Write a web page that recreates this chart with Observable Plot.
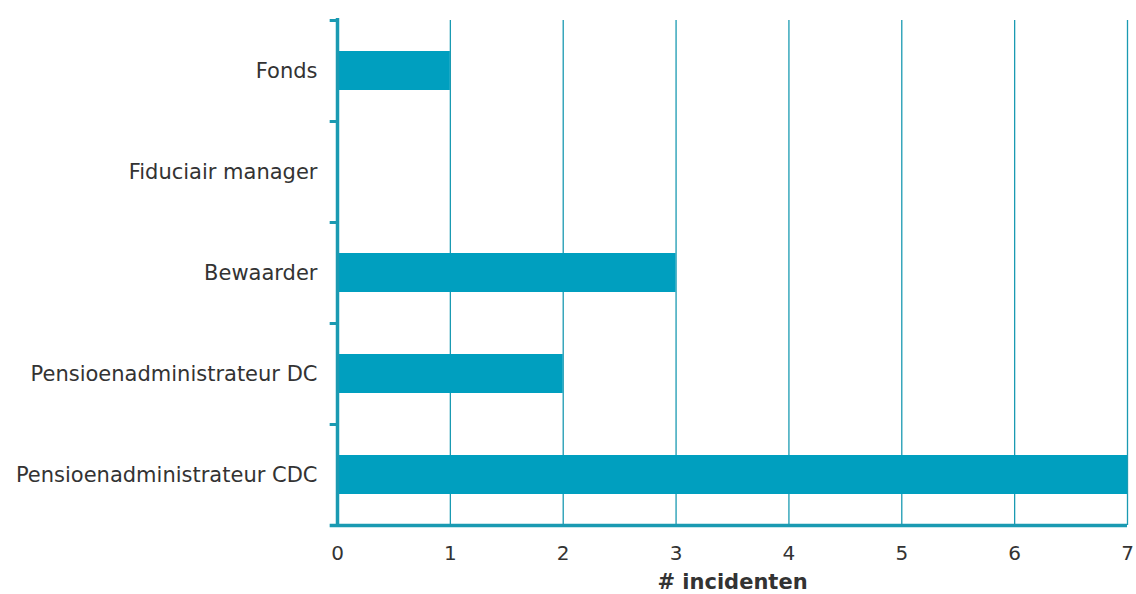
<!DOCTYPE html>
<html>
<head>
<meta charset="utf-8">
<script src="https://cdn.jsdelivr.net/npm/d3@7"></script>
<script src="https://cdn.jsdelivr.net/npm/@observablehq/plot@0.6"></script>
<style>
  html, body { margin: 0; padding: 0; background: #fff; }
  svg { display: block; }
</style>
</head>
<body>
<div id="chart"></div>
<script>
const categories = ["Fonds", "Fiduciair manager", "Bewaarder", "Pensioenadministrateur DC", "Pensioenadministrateur CDC"];
const values = [1, 0, 3, 2, 7];
const xTicks = [0, 1, 2, 3, 4, 5, 6, 7];
const xLabel = "# incidenten";

const data = categories.map((c, i) => ({category: c, value: values[i]}));

const teal = "#009fbf";
const lineColor = "#1a9ab2";
const W = 1136, H = 594, mT = 20, mB = 69, mL = 337, mR = 9;
const step = (H - mT - mB) / categories.length;

const chart = Plot.plot({
  width: W,
  height: H,
  marginTop: mT,
  marginBottom: mB,
  marginLeft: mL,
  marginRight: mR,
  style: {fontFamily: "'DejaVu Sans', Verdana, sans-serif", fontSize: "21px", color: "#333", background: "#fff"},
  x: {domain: [0, 7]},
  y: {domain: categories, padding: 0},
  marks: [
    Plot.ruleX(xTicks.filter(d => d > 0), {stroke: lineColor, strokeWidth: 1.3}),
    Plot.barX(data, {x: "value", y: "category", fill: teal, insetTop: 31, insetBottom: 31}),
    // band boundary ticks on the left axis
    Plot.ruleY(categories, {y: d => d, x1: -0.065, x2: 0, dy: -step / 2, stroke: lineColor, strokeWidth: 3}),
    Plot.ruleX([0], {stroke: lineColor, strokeWidth: 3.5, insetTop: -2}),
    Plot.ruleY([categories[categories.length - 1]], {x1: -0.065, x2: 7, dy: step / 2, stroke: lineColor, strokeWidth: 3.5}),
    Plot.axisY({tickSize: 0, tickPadding: 20, fontSize: 21, fill: "#333", label: null}),
    Plot.axisX({ticks: xTicks, tickSize: 0, tickPadding: 20, fontSize: 20, fill: "#333", label: null, tickFormat: d => String(d)}),
    Plot.text([xLabel], {frameAnchor: "bottom", dy: 57, lineAnchor: "middle", fontWeight: "bold", fontSize: 21, fill: "#333", text: d => d})
  ]
});
document.getElementById("chart").appendChild(chart);
</script>
</body>
</html>
